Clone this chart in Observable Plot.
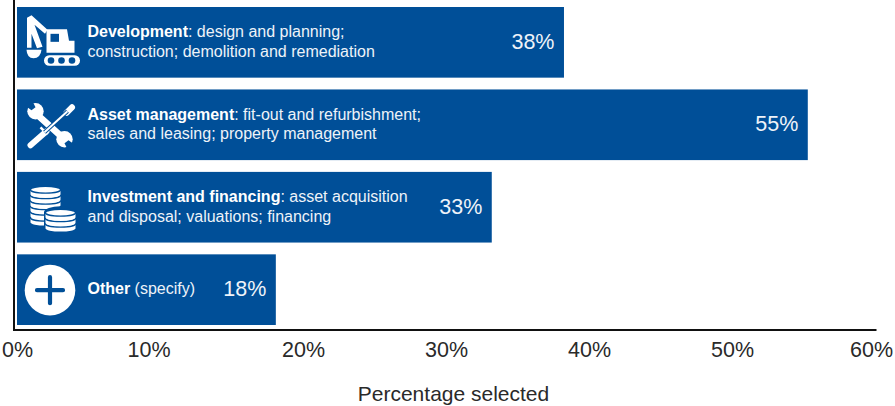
<!DOCTYPE html>
<html><head><meta charset="utf-8">
<style>html,body{margin:0;padding:0;background:#fff}svg{display:block}</style>
<script src="https://cdn.jsdelivr.net/npm/d3@7"></script>
<script src="https://cdn.jsdelivr.net/npm/@observablehq/plot@0.6"></script>
</head><body><div id="chart"></div>
<script>
const categories = ["Development", "Asset management", "Investment and financing", "Other"];
const values = [38.25, 55.3, 33.2, 18.1];
const leadIns = ["Development", "Asset management", "Investment and financing", "Other"];
const firstLineRest = [": design and planning;", ": fit-out and refurbishment;", ": asset acquisition", " (specify)"];
const secondLines = ["construction; demolition and remediation", "sales and leasing; property management", "and disposal; valuations; financing", ""];
const tickValues = [0, 20, 30, 40, 50];
const shiftedTick10 = [10];
const shiftedTick60 = [60];
const axisTitle = "Percentage selected";
const BLUE = "#004f98";
const FONT = "'Liberation Sans', Arimo, sans-serif";

const svgUri = (vb, body) => "data:image/svg+xml," + encodeURIComponent(
  `<svg xmlns="http://www.w3.org/2000/svg" viewBox="${vb}" width="60" height="60">${body}</svg>`);

const excavator = svgUri("20 12 60 60", `
  <g fill="#fff">
    <path d="M26.500 17L31 14.500L47 29L44.500 33L34 24L42 46L36.500 47.500L31 33L31 47L26.500 47Z"/>
    <path d="M26 49L41 49Q40 57.500 33 57.500Q26.500 57.500 26 49Z"/>
    <path d="M46 28.500H66.500L68.500 40H74V52H46Z"/>
    <rect x="43.500" y="54.500" width="36" height="10.500" rx="5.200"/>
  </g>
  <rect x="50" y="33" width="8.500" height="8" fill="${BLUE}"/>
  <g fill="${BLUE}"><circle cx="50.500" cy="59.700" r="3.300"/><circle cx="61" cy="59.700" r="3.300"/><circle cx="71.500" cy="59.700" r="3.300"/></g>`);

const tools = svgUri("20 95 60 60", `
  <g fill="none" stroke-linecap="round" stroke="#fff">
    <path d="M34 112L64 139" stroke-width="6.500"/>
    <path d="M71.500 107L66 112.500" stroke-width="6"/>
    <path d="M46 131L30 145" stroke-width="6"/>
    <path d="M40 127L47 134" stroke-width="2.500" stroke-linecap="butt"/>
  </g>
  <circle cx="35" cy="111" r="8.200" fill="#fff"/>
  <circle cx="64" cy="139" r="8.200" fill="#fff"/>
  <path d="M24 105L31 110L35 107L31 99Z" fill="${BLUE}"/>
  <path d="M75 145L68 140L64 143L68 151Z" fill="${BLUE}"/>
  <path d="M67 111L44 132" stroke="${BLUE}" stroke-width="4"/>
  <path d="M67 111L44 132" stroke="#fff" stroke-width="2"/>`);

const coinLayer = (cx, cy, rx, ry, h) =>
  `<path d="M${cx - rx} ${cy}V${cy + h}A${rx} ${ry} 0 0 0 ${cx + rx} ${cy + h}V${cy}Z" fill="#fff"/>` +
  `<ellipse cx="${cx}" cy="${cy}" rx="${rx}" ry="${ry}" fill="#fff" stroke="${BLUE}" stroke-width="1.400"/>`;
const coins = svgUri("20 177.500 60 60", `
  ${[218, 212, 206.500, 201, 195.500, 190].map(y => coinLayer(45, y - 0.5, 15, 3.4, 4.5)).join("")}
  <path d="M43.500 212A16.500 6 0 0 1 76.500 212V227A16.500 6 0 0 1 43.500 227Z" fill="${BLUE}"/>
  ${[224, 218.500, 213].map(y => coinLayer(60, y - 0.5, 15, 3.4, 4.5)).join("")}`);

const plus = svgUri("20 260 60 60", `
  <circle cx="49.500" cy="290" r="25.300" fill="#fff"/>
  <path d="M36.500 290H62.500M49.500 277V303" stroke="${BLUE}" stroke-width="4.200" stroke-linecap="round"/>`);

const icons = [excavator, tools, coins, plus];
const rows = categories.map((category, i) => ({
  category, value: values[i], icon: icons[i],
  label: leadIns[i] + firstLineRest[i] + (secondLines[i] ? "\n" + secondLines[i] : "")
}));

const fmt = d => d + "%";
const tickText = (data, dx) => Plot.text(data, {
  x: d => d, text: fmt, frameAnchor: "bottom", lineAnchor: "middle",
  dy: 20.5, dx, fontSize: 21.5, fill: "#2a2a2a"
});

const chart = Plot.plot({
  width: 895, height: 406,
  marginTop: 0, marginLeft: 13.5, marginRight: 20, marginBottom: 76.5,
  style: {fontFamily: FONT, background: "#fff", overflow: "visible"},
  x: {domain: [0, 60], range: [17, 875], axis: null},
  y: {domain: categories, range: [7, 325], paddingInner: 0.143, paddingOuter: 0, round: false, axis: null},
  marks: [
    Plot.barX(rows, {x1: 0, x2: "value", y: "category", fill: BLUE}),
    Plot.image(rows, {x: 0, y: "category", src: "icon", width: 60, height: 60, dx: 33}),
    Plot.text(rows, {
      x: 0, y: "category", text: "label", dx: 70, dy: -2, textAnchor: "start",
      fill: "#eef3f9", fontSize: 16, lineHeight: 1.22, className: "bar-label"
    }),
    Plot.text(rows, {
      x: "value", y: "category", text: d => Math.round(d.value) + "%", dx: -10, dy: -1, textAnchor: "end",
      fill: "#eef3f9", fontSize: 21.5
    }),
    tickText(tickValues, 0),
    tickText(shiftedTick10, -11.5),
    tickText(shiftedTick60, -4),
    Plot.text([axisTitle], {
      x: () => 30, text: d => d, frameAnchor: "bottom", lineAnchor: "middle",
      dy: 64.5, dx: 7, fontSize: 21, fill: "#2a2a2a"
    }),
    Plot.frame({anchor: "left", stroke: "#111", strokeWidth: 2}),
    Plot.frame({anchor: "bottom", stroke: "#111", strokeWidth: 2})
  ]
});

chart.querySelectorAll(".bar-label text").forEach((t, i) => {
  const target = t.querySelector("tspan") || t;
  target.textContent = "";
  const ns = "http://www.w3.org/2000/svg";
  const b = document.createElementNS(ns, "tspan");
  b.setAttribute("font-weight", "700");
  b.setAttribute("fill", "#fff");
  b.textContent = leadIns[i];
  const r = document.createElementNS(ns, "tspan");
  r.textContent = firstLineRest[i];
  target.append(b, r);
});
document.getElementById("chart").append(chart);
</script></body></html>
